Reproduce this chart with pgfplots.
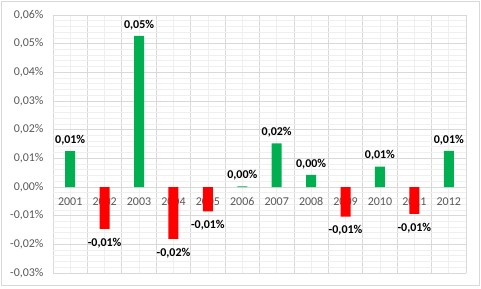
\documentclass[border=0pt]{standalone}
\usepackage{pgfplots}
\pgfplotsset{compat=1.18}
\usepackage{fontspec}
\setmainfont{Carlito}
\definecolor{xlgreen}{HTML}{00B050}
\definecolor{xlred}{HTML}{FF0000}
\definecolor{ticktext}{HTML}{595959}
\definecolor{majgrid}{HTML}{D9D9D9}
\definecolor{mingrid}{HTML}{EFEFEF}
\begin{document}
\begin{tikzpicture}
\useasboundingbox (0bp,0bp) rectangle (481bp,289bp);
\draw[majgrid, line width=0.75bp] (1bp,4bp) rectangle (479bp,288bp);
\begin{axis}[
  at={(53bp,16bp)}, anchor=south west,
  scale only axis, width=413bp, height=258bp,
  xmin=0.5, xmax=12.5, ymin=-0.03, ymax=0.06,
  enlargelimits=false,
  scaled y ticks=false,
  axis x line*=middle, axis y line*=left, axis line style={draw=none},
  hide obscured x ticks=false, hide obscured y ticks=false,
  xtick={1,2,3,4,5,6,7,8,9,10,11,12},
  xticklabels={2001,2002,2003,2004,2005,2006,2007,2008,2009,2010,2011,2012},
  minor xtick={0.5,1.5,2.5,3.5,4.5,5.5,6.5,7.5,8.5,9.5,10.5,11.5,12.5},
  ytick={-0.03,-0.02,-0.01,0,0.01,0.02,0.03,0.04,0.05,0.06},
  yticklabels={{-0,03\%},{-0,02\%},{-0,01\%},{0,00\%},{0,01\%},{0,02\%},{0,03\%},{0,04\%},{0,05\%},{0,06\%}},
  minor y tick num=4,
  xmajorgrids, xminorgrids, ymajorgrids, yminorgrids,
  major x grid style={mingrid, line width=0.75bp},
  minor x grid style={majgrid, line width=0.75bp},
  major y grid style={majgrid, line width=0.75bp},
  minor y grid style={mingrid, line width=0.75bp},
  major tick length=0pt, minor tick length=0pt,
  tick style={draw=none},
  tick label style={font=\fontsize{12}{14}\selectfont, text=ticktext},
  xticklabel style={yshift=-7bp},
  yticklabel style={xshift=-6bp},
  ybar, bar width=10bp, bar shift=0pt,
  nodes near coords={\pgfmathprintnumber{\pgfplotspointmeta}\%},
  nodes near coords style={font=\bfseries\fontsize{12}{14}\selectfont, text=black, inner sep=6bp,
     /pgf/number format/fixed, /pgf/number format/fixed zerofill,
     /pgf/number format/precision=2, /pgf/number format/use comma,
     /pgf/number format/assume math mode=true},
]
\addplot[fill=xlgreen, draw=none] coordinates {
  (1,0.0125) (3,0.0527) (6,0.0002) (7,0.0152) (8,0.0042) (10,0.0071) (12,0.0126)};
\addplot[fill=xlred, draw=none, every node near coord/.append style={yshift=-3bp}] coordinates {
  (2,-0.0146) (4,-0.0181) (5,-0.0085) (9,-0.0103) (11,-0.0094)};
\end{axis}
\end{tikzpicture}
\end{document}
